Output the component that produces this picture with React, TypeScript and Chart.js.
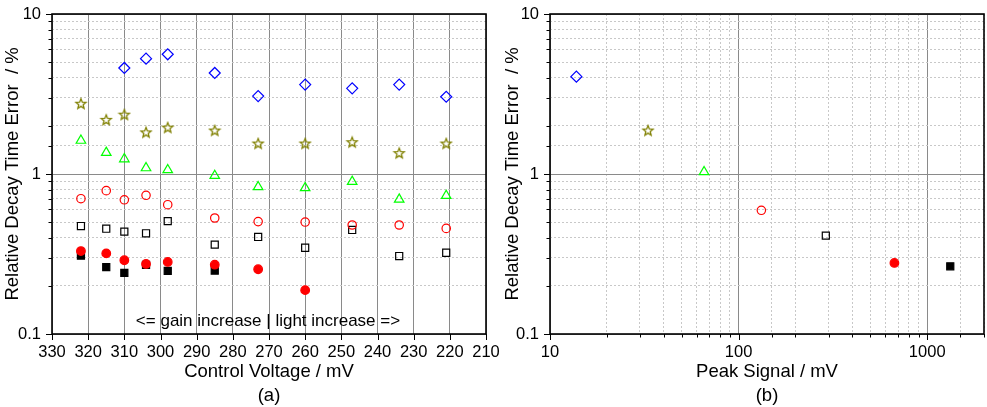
import React, { useEffect, useRef } from 'react';
import { Chart, registerables } from 'chart.js';

Chart.register(...registerables);

// ---------- data ----------
const controlVoltage = [322, 315, 310, 304, 298, 285, 273, 260, 247, 234, 221];
const errDiamond = [null, null, 4.6, 5.26, 5.6, 4.28, 3.07, 3.62, 3.43, 3.62, 3.04];
const errStar = [2.75, 2.18, 2.35, 1.82, 1.95, 1.87, 1.55, 1.55, 1.58, 1.35, 1.55];
const errTriangle = [1.62, 1.36, 1.24, 1.09, 1.06, 0.976, 0.83, 0.818, 0.896, 0.694, 0.732];
const errOpenCircle = [0.701, 0.787, 0.69, 0.736, 0.643, 0.531, 0.504, 0.501, 0.48, 0.48, 0.457];
const errOpenSquare = [0.473, 0.455, 0.436, 0.426, 0.508, 0.362, 0.404, 0.346, 0.447, 0.307, 0.322];
const errFilledCircle = [0.33, 0.319, 0.289, 0.274, 0.282, 0.271, 0.254, 0.188, null, null, null];
const errFilledSquare = [0.309, 0.262, 0.241, 0.27, 0.248, 0.249, null, null, null, null, null];

const peakSignal = [13.8, 33.1, 65.6, 132, 290, 670, 1325];
const peakError = [4.06, 1.87, 1.03, 0.593, 0.412, 0.278, 0.265];

const titleA = ['Control Voltage / mV', '(a)'];
const titleB = ['Peak Signal / mV', '(b)'];
const titleY = 'Relative Decay Time Error  / %';
const annotation = '<= gain increase | light increase =>';

// ---------- helpers ----------
const FONT = "'Liberation Sans', Arial, sans-serif";
const isPow10 = (v: number) => {
  const l = Math.log10(v);
  return Math.abs(l - Math.round(l)) < 1e-6;
};
const logLabel = (v: number) => {
  if (!isPow10(v)) return '';
  return v >= 1 ? String(Math.round(v)) : v.toFixed(1);
};

function makeStar(): HTMLCanvasElement {
  const c = document.createElement('canvas');
  c.width = 14;
  c.height = 14;
  const g = c.getContext('2d')!;
  const R = 5.3, r = 2.3, cx = 7, cy = 7.3;
  g.beginPath();
  for (let i = 0; i < 10; i++) {
    const rad = (i % 2 === 0 ? R : r);
    const a = -Math.PI / 2 + (i * Math.PI) / 5;
    const x = cx + rad * Math.cos(a);
    const y = cy + rad * Math.sin(a);
    if (i === 0) g.moveTo(x, y); else g.lineTo(x, y);
  }
  g.closePath();
  g.strokeStyle = '#808000';
  g.lineWidth = 1.3;
  g.stroke();
  return c;
}

function styles(star: HTMLCanvasElement) {
  return [
    { pointStyle: 'rectRot', borderColor: '#0000ff', backgroundColor: 'rgba(0,0,0,0)', pointRadius: 5.5 },
    { pointStyle: star, borderColor: '#808000', backgroundColor: 'rgba(0,0,0,0)', pointRadius: 6 },
    { pointStyle: 'triangle', borderColor: '#00ff00', backgroundColor: 'rgba(0,0,0,0)', pointRadius: 5.5 },
    { pointStyle: 'circle', borderColor: '#ff0000', backgroundColor: 'rgba(0,0,0,0)', pointRadius: 4.2 },
    { pointStyle: 'rect', borderColor: '#000000', backgroundColor: 'rgba(0,0,0,0)', pointRadius: 5 },
    { pointStyle: 'circle', borderColor: '#ff0000', backgroundColor: '#ff0000', pointRadius: 4.3 },
    { pointStyle: 'rect', borderColor: '#000000', backgroundColor: '#000000', pointRadius: 5 },
  ];
}

const framePlugin = {
  id: 'frame',
  afterDraw(chart: any) {
    const { ctx, chartArea: a, scales } = chart;
    ctx.save();
    ctx.strokeStyle = '#000';
    ctx.lineWidth = 1;
    ctx.beginPath();
    const xs = scales.x;
    const ys = scales.y;
    xs.ticks.forEach((t: any) => {
      const p = Math.round(xs.getPixelForValue(t.value)) + 0.5;
      const len = xs.type === 'logarithmic' && !isPow10(t.value) ? 3.5 : 6;
      ctx.moveTo(p, a.bottom);
      ctx.lineTo(p, a.bottom + len);
    });
    ys.ticks.forEach((t: any) => {
      const p = Math.round(ys.getPixelForValue(t.value)) + 0.5;
      const len = ys.type === 'logarithmic' && !isPow10(t.value) ? 3.5 : 6;
      ctx.moveTo(a.left, p);
      ctx.lineTo(a.left - len, p);
    });
    ctx.stroke();
    ctx.lineWidth = 1.6;
    ctx.strokeRect(a.left, a.top, a.right - a.left, a.bottom - a.top);
    ctx.restore();
  },
};

const annotationPlugin = {
  id: 'annot',
  afterDatasetsDraw(chart: any) {
    const { ctx, chartArea: a } = chart;
    ctx.save();
    ctx.font = `17px ${FONT}`;
    ctx.fillStyle = '#000';
    ctx.textAlign = 'center';
    ctx.textBaseline = 'middle';
    ctx.fillText(annotation, (a.left + a.right) / 2 - 1, 321);
    ctx.restore();
  },
};

const gridColor = (c: any) => (c.tick && isPow10(c.tick.value) ? '#8a8a8a' : '#c8c8c8');
const gridDash = (c: any) => (c.tick && !isPow10(c.tick.value) ? [2, 2] : []);

function yAxis(width: number) {
  return {
    type: 'logarithmic',
    min: 0.1,
    max: 10,
    afterFit: (s: any) => {
      s.width = width;
      s.paddingTop = 0;
      s.paddingBottom = 0;
    },
    ticks: {
      autoSkip: false,
      padding: 11,
      color: '#000',
      font: { family: FONT, size: 16.5 },
      callback: (v: any) => logLabel(Number(v)),
    },
    grid: { color: gridColor, lineWidth: 1, drawTicks: false },
    border: { display: false, dash: gridDash },
    title: {
      display: true,
      text: titleY,
      color: '#000',
      font: { family: FONT, size: 18.5, lineHeight: 1.25 },
      padding: { top: 1.5, bottom: 0 },
    },
  };
}

function xTitle(text: string[]) {
  return {
    display: true,
    text,
    color: '#000',
    font: { family: FONT, size: 18.5, lineHeight: 1.25 },
    padding: { top: 0, bottom: 0 },
  };
}

function xFit(h: number) {
  return (s: any) => {
    s.height = h;
    s.paddingLeft = 0;
    s.paddingRight = 0;
  };
}

export default function App() {
  const refA = useRef<HTMLCanvasElement>(null);
  const refB = useRef<HTMLCanvasElement>(null);

  useEffect(() => {
    const star = makeStar();
    const st = styles(star);
    const seriesA = [errDiamond, errStar, errTriangle, errOpenCircle, errOpenSquare, errFilledCircle, errFilledSquare];

    const dsA = seriesA.map((vals, i) => ({
      data: controlVoltage
        .map((x, j) => ({ x, y: vals[j] }))
        .filter((p) => p.y !== null),
      ...st[i],
      pointBorderWidth: 1.2,
      borderWidth: 1.2,
      showLine: false,
    }));

    const chartA = new Chart(refA.current!, {
      type: 'scatter',
      data: { datasets: dsA as any },
      plugins: [framePlugin, annotationPlugin],
      options: {
        responsive: false,
        animation: false,
        events: [],
        layout: { autoPadding: false, padding: { left: 0, top: 14, right: 14, bottom: 0 } },
        plugins: { legend: { display: false }, tooltip: { enabled: false } },
        scales: {
          x: {
            type: 'linear',
            reverse: true,
            min: 210,
            max: 330,
            afterFit: xFit(73),
            ticks: {
              stepSize: 10,
              autoSkip: false,
              maxRotation: 0,
              padding: 9,
              color: '#000',
              font: { family: FONT, size: 16.5 },
              callback: (v: any) => String(v),
            },
            grid: { color: '#8a8a8a', lineWidth: 1, drawTicks: false },
            border: { display: false },
            title: xTitle(titleA),
          },
          y: yAxis(52),
        } as any,
      },
    });

    const dsB = peakSignal.map((x, i) => ({
      data: [{ x, y: peakError[i] }],
      ...st[i],
      pointBorderWidth: 1.2,
      borderWidth: 1.2,
      showLine: false,
    }));

    const chartB = new Chart(refB.current!, {
      type: 'scatter',
      data: { datasets: dsB as any },
      plugins: [framePlugin],
      options: {
        responsive: false,
        animation: false,
        events: [],
        layout: { autoPadding: false, padding: { left: 0, top: 14, right: 3, bottom: 0 } },
        plugins: { legend: { display: false }, tooltip: { enabled: false } },
        scales: {
          x: {
            type: 'logarithmic',
            min: 10,
            max: 2000,
            afterFit: xFit(73),
            ticks: {
              autoSkip: false,
              maxRotation: 0,
              padding: 9,
              color: '#000',
              font: { family: FONT, size: 16.5 },
              callback: (v: any) => logLabel(Number(v)),
            },
            grid: { color: gridColor, lineWidth: 1, drawTicks: false },
            border: { display: false, dash: gridDash },
            title: xTitle(titleB),
          },
          y: yAxis(50),
        } as any,
      },
    });

    return () => {
      chartA.destroy();
      chartB.destroy();
    };
  }, []);

  return (
    <div style={{ position: 'absolute', left: 0, top: 0, width: 987, height: 407, background: '#fff' }}>
      <canvas ref={refA} width={500} height={407} style={{ position: 'absolute', left: 0, top: 0, width: 500, height: 407 }} />
      <canvas ref={refB} width={487} height={407} style={{ position: 'absolute', left: 500, top: 0, width: 487, height: 407 }} />
    </div>
  );
}
